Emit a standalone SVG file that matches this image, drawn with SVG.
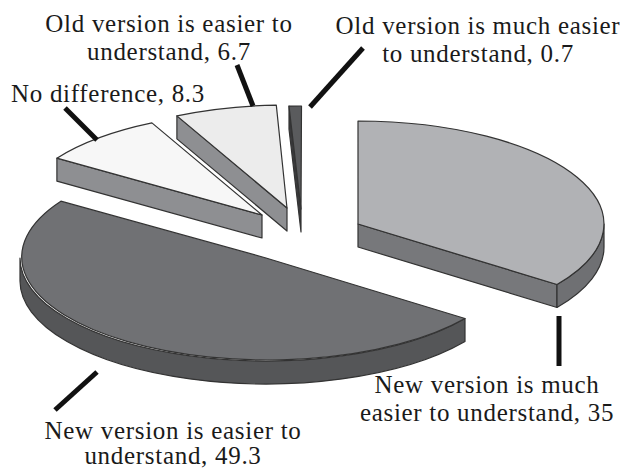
<svg xmlns="http://www.w3.org/2000/svg" width="626" height="470" viewBox="0 0 626 470">
<style>
.e{stroke:#333;stroke-width:1.2;stroke-linejoin:round}
.t{font-family:"Liberation Serif","Times New Roman",serif;font-size:25px;letter-spacing:0.7px;fill:#1a1a1a;text-anchor:middle}
.ld{stroke:#111;stroke-width:5;fill:none}
</style>
<rect width="626" height="470" fill="#fff"/>
<g id="slice-old-much-easier">
<path class="e" d="M301,209 L289,106.1 L289,129.1 L301,232 Z" fill="#3a3a3c"/>
<path class="e" d="M301,209 L289,106.1 A246 103 0 0 1 301.5,106 Z" fill="#5a5b5d"/>
<text class="t" x="478" y="34">Old version is much easier</text>
<text class="t" x="478" y="62">to understand, 0.7</text>
</g>
<g id="slice-old-easier">
<path class="e" d="M287,208 L176.9,115.9 L176.9,138.9 L287,231 Z" fill="#8e8f92"/>
<path class="e" d="M287,208 L176.9,115.9 A246 103 0 0 1 276.3,105.1 Z" fill="#ececec"/>
<text class="t" x="169" y="32">Old version is easier to</text>
<text class="t" x="169" y="60">understand, 6.7</text>
</g>
<g id="slice-no-difference">
<path class="e" d="M262,215 L56.9,158.2 L56.9,181.2 L262,238 Z" fill="#8e8f92"/>
<path class="e" d="M262,215 L56.9,158.2 A246 103 0 0 1 151.9,122.9 Z" fill="#f7f7f7"/>
<text class="t" x="108" y="102">No difference, 8.3</text>
</g>
<g id="slice-new-much-easier">
<path class="e" d="M358,224 L557,284.5 L557,307.5 L358,247 Z" fill="#77787b"/>
<path class="e" d="M604,224 A246 103 0 0 1 557,284.5 L557,307.5 A246 103 0 0 0 604,247 Z" fill="#6f7073"/>
<path class="e" d="M358,224 L358,121 A246 103 0 0 1 557,284.5 Z" fill="#b1b2b5"/>
<text class="t" x="487" y="393">New version is much</text>
<text class="t" x="487" y="421">easier to understand, 35</text>
</g>
<g id="slice-new-easier">
<path class="e" d="M465,318.5 A246 103 0 0 1 20,258 L20,281 A246 103 0 0 0 465,341.5 Z" fill="#555658"/>
<path class="e" d="M266,258 L465,318.5 A246 103 0 0 1 60.9,201.2 Z" fill="#707174"/>
<text class="t" x="173" y="439">New version is easier to</text>
<text class="t" x="173" y="464">understand, 49.3</text>
</g>
<g id="connectors">
<line class="ld" x1="237" y1="65" x2="253" y2="106"/>
<line class="ld" x1="363" y1="48" x2="310" y2="107"/>
<line class="ld" x1="65" y1="108" x2="97" y2="140"/>
<line class="ld" x1="559" y1="316" x2="559" y2="366"/>
<line class="ld" x1="97" y1="372" x2="55" y2="410"/>
</g>
</svg>
